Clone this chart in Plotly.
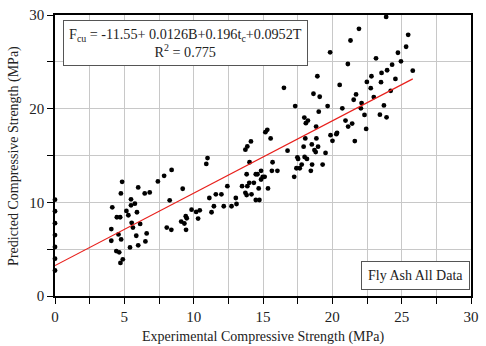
import plotly.graph_objects as go

exp_x = [0, 0, 0, 0, 0, 0, 0,
         4.06, 4.13, 4.06, 4.46, 4.70, 4.42, 4.58, 4.63, 4.75, 4.84, 4.77, 4.72, 4.89,
         5.15, 5.29, 5.41, 5.48, 5.48, 5.53, 5.62, 5.76, 5.91, 5.86, 6.00, 6.00, 6.14,
         6.47, 6.52, 6.61, 6.83, 7.42, 7.87, 8.06, 8.27, 8.39, 8.41, 9.10, 9.21, 9.33,
         9.43, 9.50, 9.45, 9.85, 10.18, 10.32, 10.44, 10.91, 11.00, 11.13, 11.29, 11.46,
         11.60, 12.00, 12.17, 12.43, 12.73, 13.04, 13.09, 13.49, 13.73, 13.73, 13.82,
         13.82, 13.87, 13.87, 14.01, 14.03, 14.13, 14.17, 14.34, 14.48, 14.48, 14.60,
         14.69, 14.74, 14.86, 14.86, 14.98, 15.12, 15.17, 15.31, 15.36, 15.55, 15.64,
         15.69, 16.04, 16.51, 16.77, 17.25, 17.32, 17.41, 17.48, 17.53, 17.65, 17.79,
         17.93, 17.98, 18.00, 18.05, 18.09, 18.17, 18.24, 18.45, 18.52, 18.54, 18.64,
         18.71, 18.80, 18.83, 18.85, 18.92, 18.97, 19.02, 19.09, 19.30, 19.51, 19.66,
         19.84, 19.87, 20.01, 20.29, 20.34, 20.53, 20.72, 20.95, 21.12, 21.14, 21.31,
         21.43, 21.54, 21.62, 21.71, 21.92, 22.06, 22.11, 22.32, 22.44, 22.49, 22.77,
         22.82, 22.99, 23.15, 23.43, 23.51, 23.55, 23.72, 23.88, 23.91, 23.95, 24.21,
         24.31, 24.55, 24.73, 24.95, 25.32, 25.47, 25.80]

pred_y = [10.28, 9.05, 7.77, 6.50, 5.23, 3.99, 2.72,
          7.14, 9.47, 5.90, 8.41, 8.41, 4.80, 6.57, 4.66, 10.95, 12.19, 6.04, 3.53, 3.92,
          9.08, 8.62, 5.19, 10.32, 9.68, 7.81, 7.31, 9.86, 8.94, 6.43, 5.41, 11.59, 7.70,
          10.95, 5.83, 6.68, 11.06, 12.23, 12.83, 7.31, 10.21, 7.07, 13.46, 7.95, 11.45, 7.74,
          8.52, 8.30, 7.07, 9.22, 8.98, 8.27, 9.15, 14.10, 14.73, 10.46, 8.94, 9.58,
          10.85, 10.85, 9.58, 11.73, 9.58, 10.46, 9.82, 11.73, 11.02, 15.62, 10.78,
          13.00, 15.97, 11.73, 12.08, 14.28, 16.50, 10.85, 12.08, 13.00, 10.25, 13.00,
          11.48, 10.25, 13.36, 12.44, 12.72, 12.72, 17.49, 17.74, 11.48, 16.82, 13.36,
          14.28, 13.36, 22.23, 15.51, 12.72, 20.28, 13.64, 14.81, 14.63, 13.64, 14.03,
          15.94, 19.05, 14.84, 16.82, 18.45, 14.63, 18.73, 13.36, 16.18, 14.03, 21.59,
          15.58, 15.37, 18.09, 16.82, 23.46, 15.94, 19.68, 21.27, 14.03, 15.27, 20.28,
          26.01, 17.17, 16.57, 17.28, 17.42, 22.54, 20.04, 18.73, 24.77, 18.09, 27.28,
          18.41, 20.95, 16.54, 21.52, 28.52, 20.04, 20.60, 19.33, 17.84, 22.86, 22.19,
          23.46, 21.24, 25.37, 19.36, 22.83, 23.82, 20.35, 29.79, 19.08, 24.10, 21.91,
          24.70, 23.18, 25.97, 25.05, 26.61, 27.88, 24.06]

fit_x = [0, 25.8]
fit_y = [3.25, 23.18]

x_tick_vals = [0, 2.5, 5, 7.5, 10, 12.5, 15, 17.5, 20, 22.5, 25, 27.5, 30]
x_tick_text = ["0", "", "5", "", "10", "", "15", "", "20", "", "25", "", "30"]
y_tick_vals = [0, 5, 10, 15, 20, 25, 30]
y_tick_text = ["0", "", "10", "", "20", "", "30"]

FONT = "Times New Roman, Liberation Serif, DejaVu Serif, serif"

fig = go.Figure()
fig.add_trace(go.Scatter(x=exp_x, y=pred_y, mode="markers",
                         marker=dict(color="black", size=4.8), showlegend=False,
                         cliponaxis=False))
fig.add_trace(go.Scatter(x=fit_x, y=fit_y, mode="lines",
                         line=dict(color="#e8201c", width=1.2), showlegend=False))

axis_common = dict(showgrid=True, gridcolor="#c8c8c8", gridwidth=1, zeroline=False,
                   showline=True, linecolor="black", linewidth=1.5, mirror=True,
                   ticks="outside", ticklen=6, tickcolor="black", tickwidth=1,
                   tickfont=dict(family=FONT, size=15, color="#222"))

fig.update_xaxes(range=[0, 30], tickmode="array", tickvals=x_tick_vals,
                 ticktext=x_tick_text, **axis_common)
fig.update_yaxes(range=[0, 30], tickmode="array", tickvals=y_tick_vals,
                 ticktext=y_tick_text, **axis_common)

fig.update_layout(
    width=486, height=346,
    margin=dict(l=55, r=7, t=13, b=50),
    plot_bgcolor="white", paper_bgcolor="white",
    font=dict(family=FONT, color="black"),
    annotations=[
        dict(text="Experimental Compressive Strength (MPa)", xref="paper", yref="paper",
             x=0.5, y=-0.145, xanchor="center", yanchor="middle", showarrow=False,
             font=dict(family=FONT, size=14, color="#222")),
        dict(text="Predicted Compressive Strength (MPa)", xref="paper", yref="paper",
             x=-0.1, y=0.5, xanchor="center", yanchor="middle", showarrow=False,
             textangle=-90, font=dict(family=FONT, size=14, color="#222")),
        dict(text="F<sub>cu</sub> = -11.55+ 0.0126B+0.196t<sub>c</sub>+0.0952T<br>R<sup>2</sup> = 0.775",
             xref="x", yref="y", x=0.55, y=29.45, xanchor="left", yanchor="top",
             showarrow=False, align="center", bgcolor="white",
             bordercolor="#555", borderwidth=1, borderpad=5,
             font=dict(family=FONT, size=14.2, color="#222")),
        dict(text="Fly Ash All Data", xref="paper", yref="paper", x=0.998, y=0.02,
             xanchor="right", yanchor="bottom", showarrow=False, bgcolor="white",
             bordercolor="#555", borderwidth=1, borderpad=6,
             font=dict(family=FONT, size=14, color="#222")),
    ],
)

fig.write_html("out.html")
